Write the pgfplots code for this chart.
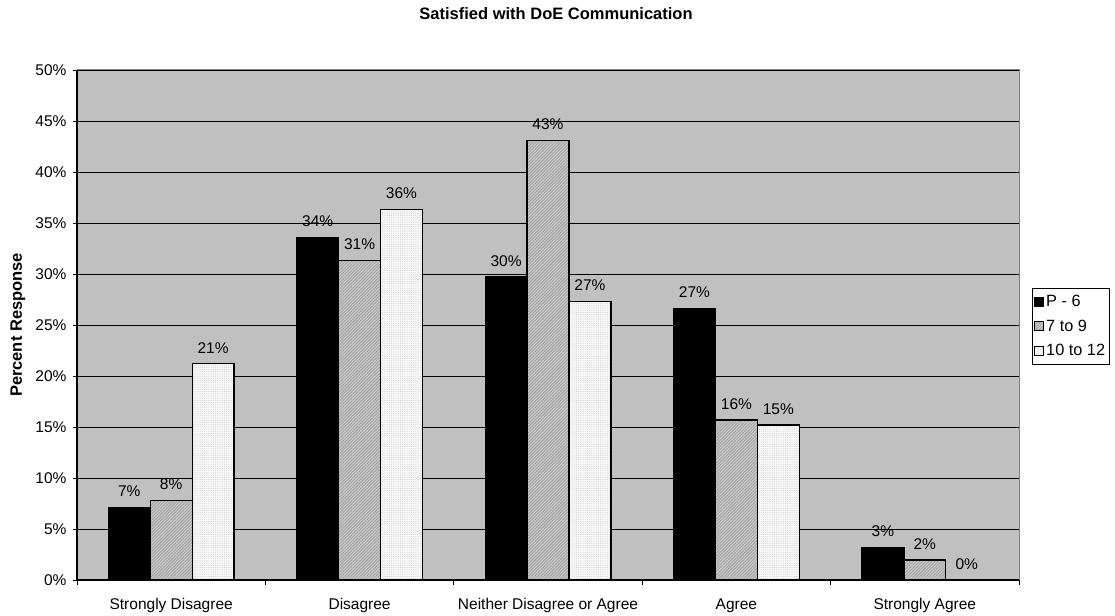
\documentclass[border=0pt]{standalone}
\usepackage{pgfplots}
\pgfplotsset{compat=1.18}
\usepackage{pgfplotstable}
\usepackage{fontspec}
\setmainfont{Liberation Sans}
\usetikzlibrary{patterns.meta}

\definecolor{plotbg}{HTML}{C0C0C0}
\definecolor{midfill}{HTML}{CBCBCB}
\definecolor{midline}{HTML}{A2A2A2}
\definecolor{lightfill}{HTML}{F6F6F6}
\definecolor{lightdot}{HTML}{C8C8C8}
\definecolor{frame}{HTML}{808080}

% Share of responses (%) per category and year group
\pgfplotstableread{
cat  pSix   sevNine  tenTwelve
0    7.09   7.80     21.2
1    33.6   31.3     36.3
2    29.7   43.1     27.3
3    26.6   15.7     15.2
4    3.17   1.96     0.0
}\satisfied

\newcommand{\chartfont}{\fontsize{15.5bp}{18bp}\selectfont}
\newcommand{\headfont}{\fontsize{16.5bp}{19bp}\selectfont\bfseries}

\begin{document}
\begin{tikzpicture}
\useasboundingbox (0,0) rectangle (1115bp,616bp);
\begin{axis}[
  at={(77bp,36bp)}, anchor=south west,
  scale only axis,
  width=942bp, height=510bp,
  font=\chartfont,
  /pgf/number format/assume math mode=true,
  axis background/.style={fill=plotbg, draw=frame, line width=1bp},
  axis lines=left,
  axis line style={-, black, line width=1.2bp},
  ybar=0pt,
  bar width=41.9bp,
  xmin=-0.5, xmax=4.5,
  ymin=0, ymax=50,
  xtick={0,...,4},
  xticklabels={Strongly Disagree, Disagree, Neither Disagree or Agree, Agree, Strongly Agree},
  minor xtick={-0.5,0.5,...,4.5},
  major x tick style={draw=none},
  minor x tick style={black, line width=0.8bp},
  minor tick length=5bp,
  ytick={0,5,...,50},
  yticklabel={\pgfmathprintnumber{\tick}\%},
  major y tick style={black, line width=0.8bp},
  major tick length=4bp,
  tick align=outside,
  ymajorgrids,
  major grid style={black, line width=0.8bp},
  xticklabel style={yshift=-11bp},
  yticklabel style={xshift=-3bp},
  title={Satisfied with DoE Communication},
  title style={font=\headfont, at={(rel axis cs:0.5,1)}, anchor=center, yshift=50bp, xshift=8bp},
  ylabel={Percent Response},
  ylabel style={font=\headfont, at={(rel axis cs:0,0.5)}, anchor=center, xshift=0bp, yshift=59bp},
  nodes near coords={\pgfmathprintnumber[fixed,precision=0]{\pgfplotspointmeta}\%},
  nodes near coords style={font=\chartfont, anchor=south, yshift=9bp, inner sep=1bp},
  legend style={at={(rel axis cs:1.0138,0.5725)}, anchor=north west, draw=black, line width=0.8bp,
    fill=white, font=\fontsize{16.3bp}{19bp}\selectfont, row sep=7.5bp, inner xsep=2bp, inner ysep=5bp,
    /tikz/every even column/.append style={column sep=0bp}},
  legend cell align=left,
  legend image code/.code={\draw[#1, draw=black, line width=0.8bp] (0bp,-4.5bp) rectangle (9bp,4.5bp);},
]
\addplot[fill=black, draw=black, line width=1.3bp] table[x=cat, y=pSix] {\satisfied};
\addplot[fill=midfill, draw=black, line width=1.3bp,
  postaction={pattern={Lines[angle=45, distance=2.2bp, line width=0.9bp]}, pattern color=midline}]
  table[x=cat, y=sevNine] {\satisfied};
\addplot[fill=lightfill, draw=black, line width=1.3bp,
  postaction={pattern={Dots[distance=2.2bp, radius=0.45bp]}, pattern color=lightdot}]
  table[x=cat, y=tenTwelve] {\satisfied};
\legend{P - 6, 7 to 9, 10 to 12}
\end{axis}
\end{tikzpicture}
\end{document}
